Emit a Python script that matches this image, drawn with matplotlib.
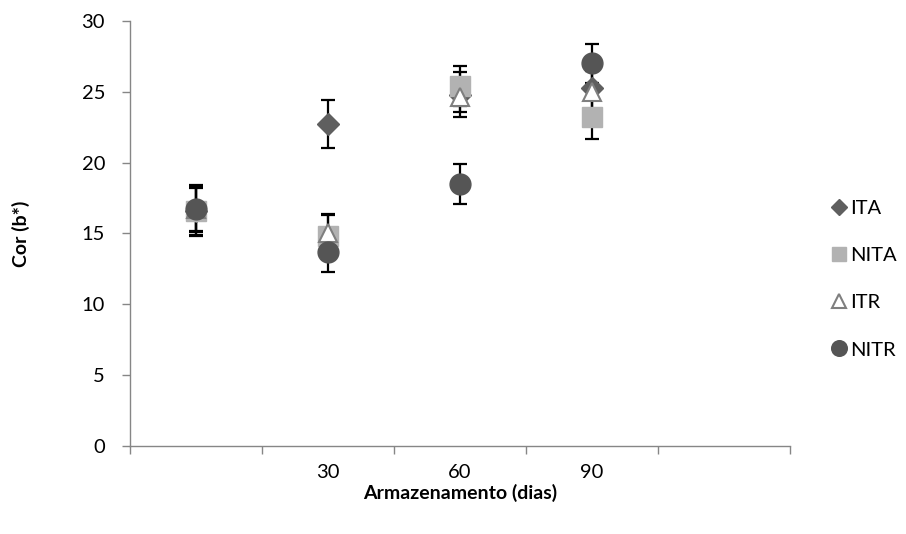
import matplotlib
matplotlib.use("Agg")
import matplotlib.pyplot as plt
from matplotlib.lines import Line2D

plt.rcParams['font.family'] = ['Lato', 'DejaVu Sans']

categories = ["", "30", "60", "90", ""]
series = ["ITA", "NITA", "ITR", "NITR"]
values = {
    "ITA":  [16.6, 22.7, 24.8, 25.3],
    "NITA": [16.6, 14.8, 25.4, 23.2],
    "ITR":  [16.7, 15.0, 24.6, 25.0],
    "NITR": [16.7, 13.7, 18.5, 27.0],
}
errors = {
    "ITA":  [1.8, 1.7, 1.6, 1.6],
    "NITA": [1.7, 1.6, 1.4, 1.5],
    "ITR":  [1.6, 1.3, 1.0, 1.5],
    "NITR": [1.5, 1.4, 1.4, 1.4],
}
styles = {
    "ITA":  dict(marker="D", ms=11, mfc="#5f5f5f", mec="#5f5f5f"),
    "NITA": dict(marker="s", ms=14, mfc="#b2b2b2", mec="#b2b2b2"),
    "ITR":  dict(marker="^", ms=13, mfc="white", mec="#7f7f7f", mew=1.5),
    "NITR": dict(marker="o", ms=15, mfc="#555555", mec="#555555"),
}

fig = plt.figure(figsize=(9.06, 5.34), dpi=100)
ax = fig.add_axes([0.1435, 0.1648, 0.8715 - 0.1435, 0.9607 - 0.1648])

xs = list(range(4))
handles = []
for i, s in enumerate(series):
    ax.errorbar(xs, values[s], yerr=errors[s], fmt="none", ecolor="black",
                elinewidth=1.6, capsize=5, capthick=1.6, zorder=2 + i)
    st = styles[s]
    ax.plot(xs, values[s], linestyle="none", zorder=10 + i, **st)
    handles.append(Line2D([], [], linestyle="none", label=s,
                          **{**st, "ms": st["ms"] * 0.75}))

ax.set_xlim(-0.5, 4.5)
ax.set_ylim(0, 30)
ax.set_yticks(range(0, 31, 5))
ax.set_xticks(range(5))
ax.set_xticklabels(categories)
ax.set_xticks([i - 0.5 for i in range(6)], minor=True)
ax.tick_params(axis="x", which="major", length=0, labelsize=14.5, pad=13)
ax.tick_params(axis="x", which="minor", length=6, color="#868686", width=1)
ax.tick_params(axis="y", which="major", length=6, color="#868686", width=1,
               labelsize=14.5, pad=12)
for sp in ["top", "right"]:
    ax.spines[sp].set_visible(False)
for sp in ["left", "bottom"]:
    ax.spines[sp].set_color("#868686")
    ax.spines[sp].set_linewidth(1)

ax.set_xlabel("Armazenamento (dias)", fontsize=14, fontweight="bold", labelpad=2)
ax.set_ylabel("Cor (b*)", fontsize=14, fontweight="bold", labelpad=37)

fig.legend(handles=handles, loc="center left", bbox_to_anchor=(0.906, 0.4775),
           bbox_transform=fig.transFigure, frameon=False, fontsize=14.5,
           labelspacing=1.5, handletextpad=0.05, handlelength=1.0,
           borderaxespad=0)

fig.savefig("out.png", dpi=100)
